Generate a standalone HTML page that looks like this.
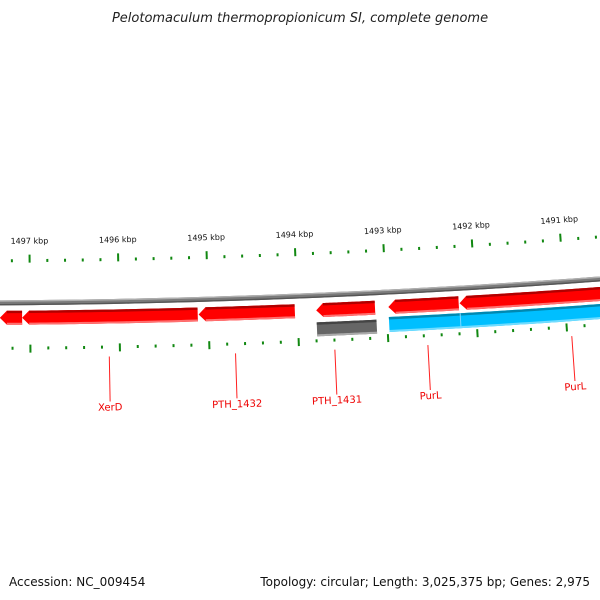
<!DOCTYPE html>
<html><head><meta charset="utf-8"><style>
body{margin:0;background:#fff;width:600px;height:600px;overflow:hidden}
svg{display:block;font-family:"DejaVu Sans","Liberation Sans",sans-serif}
</style></head><body>
<svg id="c" width="600" height="600">
<text x="300" y="22" text-anchor="middle" font-size="13" font-style="italic" fill="#222">Pelotomaculum thermopropionicum SI, complete genome</text>
<text x="9" y="586" font-size="12" fill="#111">Accession: NC_009454</text>
<text x="590" y="586" text-anchor="end" font-size="12" fill="#111">Topology: circular; Length: 3,025,375 bp; Genes: 2,975</text>
</svg>
<script>
const majorTicks=[1497,1496,1495,1494,1493,1492,1491];
const geneNames=["","XerD","PTH_1432","PTH_1431","","PurL","PurL"];
const geneStarts=[1497.34,1497.09,1495.11,1493.79,1492.98,1492.18,1492.98];
const geneEnds=[1497.09,1495.12,1494.03,1493.13,1492.19,1490.5,1490.5];
const geneTracks=["red","red","red","red","red","red","blue"];
const greyStarts=[1493.79];
const greyEnds=[1493.12];
const labelNames=["XerD","PTH_1432","PTH_1431","PurL","PurL"];
const labelPos=[1496.12,1494.71,1493.6,1492.56,1490.95];

const svg=document.getElementById('c');
const NS='http://www.w3.org/2000/svg';
const R=8850,CX=-52,CY=303-8850;
function ang(k){return (30+(1497-k)*89-CX)/R;}
function pt(k,off){const a=ang(k),r=R-off;return [CX+r*Math.sin(a),CY+r*Math.cos(a)];}
function arcPts(k1,k2,off,n){const p=[];for(let i=0;i<=n;i++){p.push(pt(k1+(k2-k1)*i/n,off));}return p;}
function el(t,a){const e=document.createElementNS(NS,t);for(const k in a)e.setAttribute(k,a[k]);svg.appendChild(e);return e;}
function deg(k){return -ang(k)*180/Math.PI;}
function ps(p){return p.map(q=>q.join(',')).join(' ');}

// backbone
[[0,'#7a7a7a',5],[1.8,'#b0b0b0',1.4],[-1.8,'#555',1.4]].forEach((b,i)=>{
  const l=el('polyline',{points:ps(arcPts(1497.5,1490.3,b[0],40)),fill:'none',stroke:b[1],'stroke-width':b[2]});
  
  
});

// ticks
for(let i=-2;i<=36;i++){
  const k=1497-i*0.2;
  const major=Math.abs(i%5)===0;
  [[40,48],[-42,-50]].forEach((o,j)=>{
    let a,b;
    if(major){a=pt(k,o[0]);b=pt(k,o[1]);}
    else if(j===0){a=pt(k,o[0]+0.5);b=pt(k,o[0]+3.5);}
    else{a=pt(k,o[0]-2);b=pt(k,o[0]-5);}
    const l=el('line',{x1:a[0],y1:a[1],x2:b[0],y2:b[1],stroke:'#118811','stroke-width':2});
    
    
  });
}
majorTicks.forEach(k=>{
  const p=pt(k,59);
  const t=el('text',{x:p[0],y:p[1],'font-size':'8','text-anchor':'middle',fill:'#111',transform:`rotate(${deg(k)} ${p[0]} ${p[1]})`});
  t.textContent=k+' kbp';
  
  
});

const pal={red:['#ff0000','#b00000','#ff7070'],blue:['#00bfff','#0088b0','#70dcff'],grey:['#666','#444','#aaa']};
function gene(k1,k2,o1,o2,col,arrow,name){
  const n=30,head=7/89,c=pal[col];
  const kb=arrow?k1-head:k1;
  let pts=arcPts(kb,k2,o1,n).concat(arcPts(k2,kb,o2,n));
  if(arrow)pts=[pt(k1,(o1+o2)/2)].concat(pts);
  const p=el('polygon',{points:ps(pts),fill:c[0]});
  
  
  const t=el('polyline',{points:ps(arcPts(kb,k2,o1-1.2,n)),fill:'none',stroke:c[1],'stroke-width':2.4});
  
  
  const b=el('polyline',{points:ps(arcPts(kb,k2,o2+1,n)),fill:'none',stroke:c[2],'stroke-width':2});
  
  
}
geneStarts.forEach((s,i)=>{
  if(geneTracks[i]==='red') gene(s,geneEnds[i],-8,-22,'red',true,'gene-'+(geneNames[i]||'unnamed').toLowerCase());
  else gene(s,geneEnds[i],-25,-40,'blue',false,'gene-purl-blue');
});
greyStarts.forEach((s,i)=>gene(s,greyEnds[i],-27,-41,'grey',false,'gene-grey'));
{const a=pt(1492.18,-25),b=pt(1492.18,-40);const l=el('line',{x1:a[0],y1:a[1],x2:b[0],y2:b[1],stroke:'#7fd8ff','stroke-width':1});
}

labelNames.forEach((nm,i)=>{
  const k=labelPos[i],a=pt(k,-55),b=pt(k,-100),c=pt(k,-109);
  const l=el('line',{x1:a[0],y1:a[1],x2:b[0],y2:b[1],stroke:'#ff2020','stroke-width':1});
  
  
  const t=el('text',{x:c[0],y:c[1],'font-size':'10','text-anchor':'middle',fill:'#ee0000',transform:`rotate(${deg(k)} ${c[0]} ${c[1]})`});
  t.textContent=nm;
  
  
});
</script>
</body></html>
